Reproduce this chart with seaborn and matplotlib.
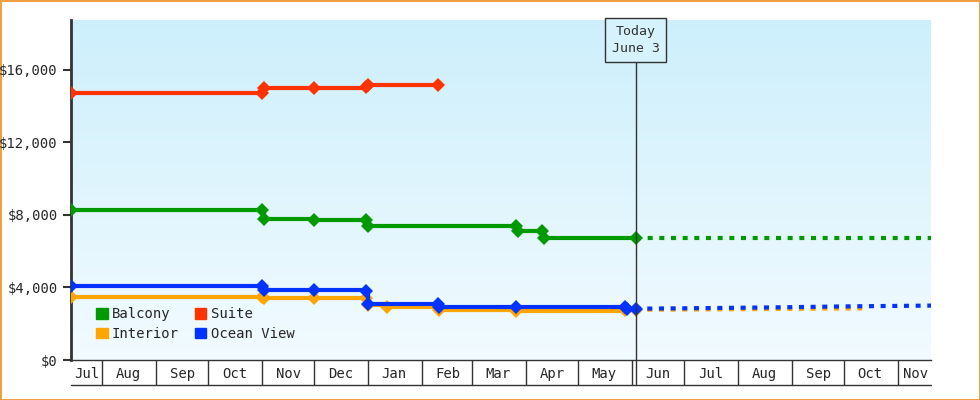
import matplotlib
matplotlib.use("Agg")
import matplotlib.pyplot as plt
import matplotlib.dates as mdates
import numpy as np
import pandas as pd
import seaborn as sns

sns.set_style("white")
plt.rcParams["font.family"] = ["DejaVu Sans Mono"]

# history (step changes; repeated dates = before/after a change)
balcony_dates = ["2023-07-14", "2023-11-01", "2023-11-02", "2023-12-01", "2023-12-31", "2024-01-01",
                 "2024-03-26", "2024-03-27", "2024-04-10", "2024-04-11", "2024-06-03"]
balcony_vals = [8280, 8280, 7750, 7740, 7740, 7400, 7400, 7100, 7100, 6730, 6730]
suite_dates = ["2023-07-14", "2023-11-01", "2023-11-02", "2023-12-01", "2023-12-31", "2024-01-01", "2024-02-10"]
suite_vals = [14700, 14700, 14980, 15010, 15040, 15180, 15180]
interior_dates = ["2023-07-14", "2023-11-01", "2023-11-02", "2023-12-01", "2023-12-31", "2024-01-01",
                  "2024-01-12", "2024-02-10", "2024-02-11", "2024-03-26", "2024-05-28", "2024-06-03"]
interior_vals = [3480, 3480, 3440, 3440, 3440, 3050, 2900, 2900, 2750, 2720, 2760, 2770]
ocean_dates = ["2023-07-14", "2023-11-01", "2023-11-02", "2023-12-01", "2023-12-31", "2024-01-01",
               "2024-02-10", "2024-02-11", "2024-03-26", "2024-05-28", "2024-05-29", "2024-06-03"]
ocean_vals = [4100, 4100, 3880, 3850, 3830, 3100, 3100, 2900, 2920, 2920, 2840, 2830]

# forecast (dotted)
fc_balcony_dates = ["2024-06-03", "2024-11-20"]
fc_balcony_vals = [6730, 6730]
fc_interior_dates = ["2024-06-03", "2024-08-01", "2024-10-15"]
fc_interior_vals = [2770, 2800, 2850]
fc_ocean_dates = ["2024-06-03", "2024-07-10", "2024-08-20", "2024-10-05", "2024-11-20"]
fc_ocean_vals = [2830, 2860, 2900, 2960, 3000]

colors = {"Balcony": "#009a00", "Suite": "#ff3300", "Interior": "#ffa500", "Ocean View": "#0033ff"}
today = pd.Timestamp("2024-06-03")
x0, x1 = pd.Timestamp("2023-07-14"), pd.Timestamp("2024-11-20")

fig = plt.figure(figsize=(9.8, 4.0), dpi=100)
fig.patch.set_edgecolor("#f0a040")
fig.patch.set_linewidth(2)
ax = fig.add_axes([71 / 980, 40 / 400, 860 / 980, 340 / 400])

# gradient background (darker at top)
grad = np.linspace(0, 1, 256).reshape(-1, 1)
cmap = matplotlib.colors.LinearSegmentedColormap.from_list("bg", ["#cdeffc", "#f2fbff"])
ax.imshow(grad, aspect="auto", cmap=cmap, origin="upper",
          extent=[mdates.date2num(x0), mdates.date2num(x1), 0, 18750], zorder=0)

series = [("Interior", interior_dates, interior_vals), ("Balcony", balcony_dates, balcony_vals),
          ("Suite", suite_dates, suite_vals), ("Ocean View", ocean_dates, ocean_vals)]
for name, d, v in series:
    df = pd.DataFrame({"date": pd.to_datetime(d), "price": v})
    sns.lineplot(data=df, x="date", y="price", ax=ax, color=colors[name], lw=3, drawstyle="steps-post",
                 marker="D", markersize=7, markeredgewidth=0, label=name, zorder=3)

for name, d, v in [("Balcony", fc_balcony_dates, fc_balcony_vals), ("Interior", fc_interior_dates, fc_interior_vals),
                   ("Ocean View", fc_ocean_dates, fc_ocean_vals)]:
    ax.plot(pd.to_datetime(d), v, color=colors[name], lw=3, ls=(0, (1.2, 1.6)), zorder=2)

ax.set_xlim(x0, x1)
ax.set_ylim(0, 18750)
ax.set_yticks([0, 4000, 8000, 12000, 16000])
ax.set_yticklabels(["$0", "$4,000", "$8,000", "$12,000", "$16,000"])
ax.tick_params(axis="y", length=6, width=1.5, color="#333333", labelsize=10, direction="out", left=True)

months = pd.date_range("2023-08-01", "2024-11-01", freq="MS")
ax.set_xticks(months)
ax.set_xticklabels([])
ax.tick_params(axis="x", which="major", length=18, width=1, color="#333333", direction="out", bottom=True)
mids = [pd.Timestamp("2023-07-23")] + [m + pd.Timedelta(days=15) for m in months[:-1]] + [pd.Timestamp("2024-11-11")]
ax.set_xticks(mids, minor=True)
ax.set_xticklabels(["Jul"] + [m.strftime("%b") for m in months[:-1]] + ["Nov"], minor=True)
ax.tick_params(axis="x", which="minor", length=0, labelsize=10, pad=5)
ax.set_xlabel("")
ax.set_ylabel("")

for s in ["top", "right"]:
    ax.spines[s].set_visible(False)
ax.spines["left"].set_color("#333333")
ax.spines["left"].set_linewidth(2)
ax.spines["bottom"].set_color("#333333")
ax.spines["bottom"].set_linewidth(1)
ax.plot([0, 1], [-25 / 340, -25 / 340], transform=ax.transAxes, color="#333333", lw=1, clip_on=False)

# today marker
ax.plot([today, today], [-25 / 340, 1 - 40 / 340], transform=ax.get_xaxis_transform(), color="#333333", lw=1,
        clip_on=False, zorder=4)
ax.text(today, 1 - 20 / 340, "Today\nJune 3", transform=ax.get_xaxis_transform(), ha="center", va="center",
        fontsize=9.5, color="#333333", linespacing=1.5,
        bbox=dict(boxstyle="square,pad=0.5", fc="#d6f2fc", ec="#333333", lw=1), zorder=5)

order = ["Balcony", "Interior", "Suite", "Ocean View"]
hs = [matplotlib.patches.Patch(color=colors[n]) for n in order]
ax.legend(hs, order, loc="lower left", bbox_to_anchor=(0.015, 0.02), ncol=2, frameon=False, fontsize=10,
          handlelength=0.8, handleheight=0.8, handletextpad=0.3, columnspacing=1.2, labelspacing=0.4)

fig.savefig("out.png", dpi=100)
